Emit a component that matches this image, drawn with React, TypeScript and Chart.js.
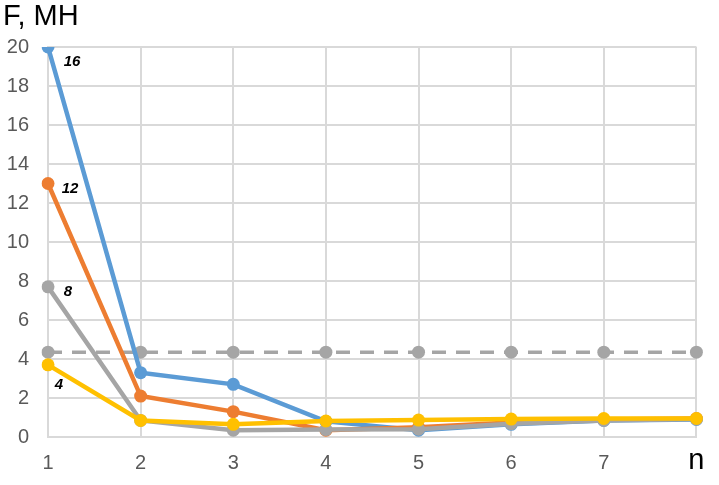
import React, { useEffect, useRef } from "react";
import { Chart, registerables } from "chart.js";

Chart.register(...registerables);

const categories = ["1", "2", "3", "4", "5", "6", "7", "n"];
const series16 = [20, 3.3, 2.7, 0.8, 0.35, 0.65, 0.85, 0.9];
const series12 = [13, 2.1, 1.3, 0.35, 0.5, 0.75, 0.9, 0.95];
const series8 = [7.7, 0.85, 0.35, 0.38, 0.4, 0.68, 0.85, 0.92];
const series4 = [3.7, 0.85, 0.65, 0.82, 0.87, 0.92, 0.95, 0.95];
const limitLine = [4.35, 4.35, 4.35, 4.35, 4.35, 4.35, 4.35, 4.35];
const seriesLabels = ["16", "12", "8", "4"];
const titleText = "F, MH";

const labelOffsets = [
  [24, 15],
  [22, 5],
  [20, 5],
  [11, 20],
];

const FONT = "'Liberation Sans', Arial, sans-serif";

const seriesTagPlugin = {
  id: "seriesTags",
  afterDatasetsDraw(chart: any) {
    const ctx = chart.ctx;
    ctx.save();
    ctx.font = `bold italic 15px ${FONT}`;
    ctx.fillStyle = "#000";
    ctx.textAlign = "center";
    ctx.textBaseline = "middle";
    seriesLabels.forEach((lab, i) => {
      const meta = chart.getDatasetMeta(i);
      const pt = meta.data[0];
      if (!pt) return;
      ctx.fillText(lab, pt.x + labelOffsets[i][0], pt.y + labelOffsets[i][1]);
    });
    ctx.restore();
  },
};

export default function App() {
  const ref = useRef<HTMLCanvasElement | null>(null);
  useEffect(() => {
    if (!ref.current) return;
    const mk = (data: number[], color: string, order: number) => ({
      data,
      borderColor: color,
      backgroundColor: color,
      borderWidth: 4.5,
      pointRadius: 6.5,
      pointBorderWidth: 0,
      pointBackgroundColor: color,
      tension: 0,
      order,
    });
    const chart = new Chart(ref.current, {
      type: "line",
      data: {
        labels: categories,
        datasets: [
          mk(series16, "#5B9BD5", 3),
          mk(series12, "#ED7D31", 2),
          mk(series8, "#A5A5A5", 1),
          mk(series4, "#FFC000", 0),
          {
            ...mk(limitLine, "#A5A5A5", 4),
            borderWidth: 3.5,
            borderDash: [14, 10],
          },
        ],
      },
      options: {
        animation: false,
        responsive: false,
        maintainAspectRatio: false,
        layout: { padding: { left: 3, right: 19, top: 0, bottom: 0 } },
        plugins: {
          legend: { display: false },
          tooltip: { enabled: false },
          title: {
            display: true,
            text: titleText,
            align: "start",
            color: "#000",
            font: { family: FONT, size: 29, weight: "normal" },
            padding: { top: 0, bottom: 12.2 },
          },
        },
        scales: {
          x: {
            type: "category",
            offset: false,
            grid: { color: "#d9d9d9", lineWidth: 2, drawTicks: false, offset: false },
            border: { color: "#d9d9d9", width: 2 },
            ticks: {
              padding: 14.5,
              maxRotation: 0,
              autoSkip: false,
              color: (c: any) => (c.index === 7 ? "#000" : "#595959"),
              font: (c: any) =>
                c.index === 7
                  ? { family: FONT, size: 29, lineHeight: "18px" }
                  : { family: FONT, size: 20 },
            },
            afterFit: (s: any) => {
              s.height = 48;
            },
          },
          y: {
            min: 0,
            max: 20,
            grid: { color: "#d9d9d9", lineWidth: 2, drawTicks: false },
            border: { color: "#d9d9d9", width: 2 },
            ticks: {
              stepSize: 2,
              padding: 19,
              color: "#595959",
              font: { family: FONT, size: 20 },
            },
            afterFit: (s: any) => {
              s.width = 45;
            },
          },
        },
      },
      plugins: [seriesTagPlugin],
    });
    return () => chart.destroy();
  }, []);
  return (
    <div style={{ position: "fixed", left: 0, top: 0, width: 719, height: 485, background: "#fff" }}>
      <canvas ref={ref} width={719} height={485} style={{ width: 719, height: 485 }} />
    </div>
  );
}
